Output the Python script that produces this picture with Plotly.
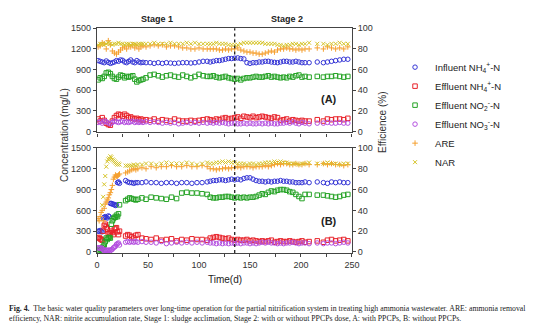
import plotly.graph_objects as go

# ---------------- data ----------------
# Panel A (with PPCPs)
days_A = [1,3,5,7,9,11,13,15,17,19,21,23,25,27,29,31,33,35,37,39,41,43,45,
          48,52,56,60,64,68,72,76,80,84,88,92,96,100,104,108,
          111,114,117,120,123,126,129,132,135,138,141,144,147,150,153,156,159,162,165,168,171,174,177,180,183,186,189,192,195,198,201,204,
          208,216,222,226,230,234,238,242,246]
inf_nh4_A = [1030,1020,1010,1000,1025,1005,990,1000,1010,1030,1020,1040,1035,1010,1000,1020,1040,1010,1000,1030,1010,1000,1005,
             1000,1000,990,1000,990,1000,995,990,995,1000,1000,995,1000,1010,1020,1020,
             1010,1020,1030,1030,1040,1050,1060,1060,1065,1070,1060,1055,1000,990,1000,1000,1010,1010,1020,1020,1010,1005,1000,1010,1020,1020,1010,1010,1020,1010,1000,1000,
             1000,1010,1000,1010,1020,1030,1040,1050,1050]
eff_nh4_A = [180,150,200,160,120,100,90,150,200,230,250,240,220,250,230,200,210,190,180,190,170,180,160,
             170,160,180,150,170,160,150,180,160,150,150,160,150,160,170,180,
             170,160,180,170,190,200,180,190,200,210,190,220,210,200,220,200,210,220,210,200,190,210,200,160,170,180,150,170,160,150,160,150,
             150,170,150,180,170,180,180,170,190]
eff_no2_A = [750,780,770,800,850,860,840,800,770,760,790,820,810,780,800,790,800,810,760,720,740,750,760,
             780,820,830,810,790,810,820,800,790,820,800,780,800,830,810,800,
             800,810,790,780,790,800,780,770,760,770,750,770,780,780,790,800,790,790,800,810,790,800,790,780,790,780,800,790,810,820,790,800,
             790,800,790,800,800,810,800,790,800]
eff_no3_A = [130,140,120,150,140,120,110,130,150,140,130,140,150,130,140,130,140,150,130,140,130,140,130,
             140,130,140,130,120,130,120,130,110,120,130,120,130,120,130,120,
             130,120,130,120,130,120,110,120,120,110,110,120,110,120,110,110,120,110,120,110,120,110,110,120,120,130,120,140,120,110,130,120,
             110,120,120,130,120,120,130,120,120]
are_A = [82,83,86,85,80,88,84,78,76,75,77,79,81,82,80,83,82,84,81,83,80,82,83,
         82,83,84,83,84,82,83,83,82,81,81,80,80,81,80,80,
         80,80,80,79,79,80,79,80,80,81,79,78,77,77,76,76,75,75,76,77,78,77,79,80,80,81,80,80,79,80,79,80,
         80,81,80,82,81,80,81,80,82]
nar_A = [84,85,85,84,85,86,85,84,85,85,86,85,85,84,85,85,84,85,85,84,85,85,85,
         85,85,86,85,85,85,86,85,85,85,86,85,86,85,85,85,
         85,85,86,85,85,85,84,84,84,84,85,86,86,86,86,86,86,86,85,85,85,85,84,84,83,84,84,85,85,84,85,85,
         86,85,85,84,85,85,86,85,85]

# Panel B (without PPCPs)
days_B = [1,2,3,4,5,6,7,8,9,10,11,12,13,14,15,16,17,18,19,20,21,22,
          28,30,32,34,36,38,40,44,48,
          53,58,63,68,73,78,83,88,93,98,103,108,
          111,114,117,120,123,126,129,132,135,138,141,144,147,150,153,156,159,162,165,168,171,174,177,180,183,186,189,192,195,198,201,204,
          208,216,222,226,230,234,238,242,246]
inf_nh4_B = [300,300,310,300,290,490,500,510,500,490,520,510,700,700,690,690,680,670,680,1000,1010,990,
             1030,1010,1000,1000,990,1000,1000,1000,1010,
             1000,1000,990,1000,1000,990,1000,1000,990,1000,1000,1010,
             1020,1030,1030,1040,1040,1030,1040,1050,1040,1050,1040,1060,1070,1070,1050,1030,1020,1020,1010,1020,1010,1020,1020,1030,1020,1020,1010,1010,1000,1000,1000,1010,
             1000,1010,1000,990,1010,1000,1010,1000,1000]
eff_nh4_B = [200,210,190,180,170,300,380,400,360,330,260,280,270,300,280,250,330,340,350,290,250,300,
             230,250,240,220,200,240,250,200,190,
             180,200,170,180,190,160,180,170,190,180,180,170,
             200,210,220,210,200,190,200,180,170,180,170,170,180,160,170,160,150,160,150,160,170,140,150,160,150,150,160,150,140,150,160,140,
             150,160,140,170,180,160,170,180,160]
eff_no2_B = [10,20,40,30,60,80,100,150,200,180,200,210,200,400,450,480,500,500,530,510,550,680,
             740,760,780,770,760,750,760,780,760,
             790,780,770,760,790,770,850,860,850,850,840,830,
             790,780,780,790,790,800,800,790,780,790,780,790,780,790,790,800,820,840,830,860,880,870,890,900,900,890,870,860,830,800,770,830,
             830,820,820,810,800,790,800,820,830]
eff_no3_B = [60,60,50,60,50,30,20,20,30,20,20,30,20,30,40,60,70,80,110,120,130,100,
             140,150,140,150,140,150,140,150,140,
             140,130,150,120,130,140,130,140,130,140,130,140,
             130,130,120,130,120,130,120,130,120,130,120,130,130,120,130,120,130,140,130,140,130,130,120,130,120,130,130,140,130,120,130,130,
             120,130,120,130,130,120,130,140,130]
are_B = [32,30,34,38,40,30,42,46,48,50,52,55,57,60,64,70,72,74,73,73,74,75,
         76,77,78,79,80,79,80,81,80,
         82,81,82,82,83,82,82,83,82,82,83,82,
         80,80,79,80,80,81,80,81,81,82,81,82,82,82,81,82,82,82,83,82,83,84,85,84,85,85,84,84,85,84,84,85,
         84,84,85,84,85,84,84,83,84]
nar_B = [None,None,None,None,45,53,65,73,82,87,89,90,92,91,89,88,87,86,85,84,85,84,
         83,83,83,83,84,83,84,84,85,
         85,84,85,86,85,85,85,86,85,84,85,86,
         85,85,86,86,87,86,87,86,86,85,85,85,84,85,85,84,85,85,86,86,86,87,86,87,86,86,85,85,85,84,85,85,
         86,85,85,86,85,85,84,85,85]

STAGE_SPLIT = 135
x_ticks = [0, 25, 50, 75, 100, 125, 150, 175, 200, 225, 250]
conc_ticks = [0, 300, 600, 900, 1200, 1500]
eff_ticks = [0, 20, 40, 60, 80, 100]

series_names = ["Influent NH<sub>4</sub><sup>+</sup>-N", "Effluent NH<sub>4</sub><sup>+</sup>-N",
                "Effluent NO<sub>2</sub><sup>-</sup>-N", "Effluent NO<sub>3</sub><sup>-</sup>-N",
                "ARE", "NAR"]
colors = ["#3535d6", "#e8232b", "#26a326", "#b44fe0", "#f5a030", "#d6c42a"]
symbols = ["circle-open", "square-open", "square-open", "circle-open", "cross-thin", "x-thin"]

# ---------------- figure ----------------
FONT = "Liberation Sans, Arial, sans-serif"
fig = go.Figure()

panels = [
    (days_A, [inf_nh4_A, eff_nh4_A, eff_no2_A, eff_no3_A, are_A, nar_A], "x", "y", "y2", True),
    (days_B, [inf_nh4_B, eff_nh4_B, eff_no2_B, eff_no3_B, are_B, nar_B], "x2", "y3", "y4", False),
]
for days, vals, xa, ya_left, ya_right, show in panels:
    for i, v in enumerate(vals):
        ya = ya_left if i < 4 else ya_right
        fig.add_trace(go.Scatter(
            x=days, y=v, mode="markers", name=series_names[i],
            xaxis=xa, yaxis=ya, showlegend=show,
            marker=dict(symbol=symbols[i], size=4.5 if i < 4 else 4,
                        color=colors[i], line=dict(width=1, color=colors[i])),
        ))

W, H = 553, 328
xdom = [96 / W, 356 / W]
domA = [1 - 131 / H, 1 - 24 / H]
domB = [1 - 255 / H, 1 - 147 / H]

axis_common = dict(showline=True, linecolor="#444", linewidth=1.3, ticks="outside",
                   ticklen=3, tickcolor="#444", showgrid=False, zeroline=False,
                   tickfont=dict(family=FONT, size=9, color="#333"))

fig.update_layout(
    width=W, height=H, margin=dict(l=0, r=0, t=0, b=0),
    paper_bgcolor="white", plot_bgcolor="white",
    font=dict(family=FONT, color="#333"),
    xaxis=dict(domain=xdom, anchor="y", range=[0, 250], tickvals=x_ticks,
               ticktext=[""] * len(x_ticks), mirror=True, **axis_common),
    xaxis2=dict(domain=xdom, anchor="y3", range=[0, 250], tickvals=x_ticks,
                ticktext=[str(t) if t % 50 == 0 else "" for t in x_ticks], mirror=True, **axis_common),
    yaxis=dict(domain=domA, anchor="x", range=[-15, 1500], tickvals=conc_ticks, **axis_common),
    yaxis2=dict(domain=domA, anchor="x", overlaying="y", side="right", range=[-1, 100],
                tickvals=eff_ticks, **axis_common),
    yaxis3=dict(domain=domB, anchor="x2", range=[-15, 1500], tickvals=conc_ticks, **axis_common),
    yaxis4=dict(domain=domB, anchor="x2", overlaying="y3", side="right", range=[-1, 100],
                tickvals=eff_ticks, **axis_common),
    legend=dict(x=400 / W, xanchor="left", y=1 - 49 / H, yanchor="top",
                font=dict(family=FONT, size=9.5, color="#222"), bgcolor="rgba(0,0,0,0)",
                itemwidth=30, tracegroupgap=0),
)

for xr in ["x", "x2"]:
    fig.add_shape(type="line", xref=xr, yref=("y domain" if xr == "x" else "y3 domain"),
                  x0=STAGE_SPLIT, x1=STAGE_SPLIT, y0=0, y1=1,
                  line=dict(color="#222", width=1.3, dash="dot"))

ann = [
    dict(text="<b>Stage 1</b>", x=157 / W, y=1 - 14 / H, size=9),
    dict(text="<b>Stage 2</b>", x=290 / W, y=1 - 14 / H, size=9),
    dict(text="<b>(A)</b>", x=333 / W, y=1 - 97 / H, size=11),
    dict(text="<b>(B)</b>", x=333 / W, y=1 - 222 / H, size=11),
    dict(text="Time(d)", x=226 / W, y=1 - 282 / H, size=10),
]
for a in ann:
    fig.add_annotation(text=a["text"], x=a["x"], y=a["y"], xref="paper", yref="paper",
                       showarrow=False, xanchor="center", yanchor="middle",
                       font=dict(family=FONT, size=a["size"], color="#222"))

fig.add_annotation(text="Concentration (mg/L)", x=63 / W, y=1 - 134 / H, xref="paper", yref="paper",
                   showarrow=False, textangle=-90, xanchor="center", yanchor="middle",
                   font=dict(family=FONT, size=10, color="#333"))
fig.add_annotation(text="Efficience (%)", x=387 / W, y=1 - 120 / H, xref="paper", yref="paper",
                   showarrow=False, textangle=-90, xanchor="center", yanchor="middle",
                   font=dict(family=FONT, size=10, color="#333"))

SERIF = "Liberation Serif, Times New Roman, serif"
fig.add_annotation(
    text="<b>Fig. 4.</b>  The basic water quality parameters over long-time operation for the partial nitrification system in treating high ammonia wastewater. ARE: ammonia removal",
    x=4 / W, y=1 - 312 / H, xref="paper", yref="paper", showarrow=False,
    xanchor="left", yanchor="middle", font=dict(family=SERIF, size=7.8, color="#222"))
fig.add_annotation(
    text="efficiency, NAR: nitrite accumulation rate, Stage 1: sludge acclimation, Stage 2: with or without PPCPs dose, A: with PPCPs, B: without PPCPs.",
    x=4 / W, y=1 - 322 / H, xref="paper", yref="paper", showarrow=False,
    xanchor="left", yanchor="middle", font=dict(family=SERIF, size=7.8, color="#222"))

fig.write_html("out.html")
